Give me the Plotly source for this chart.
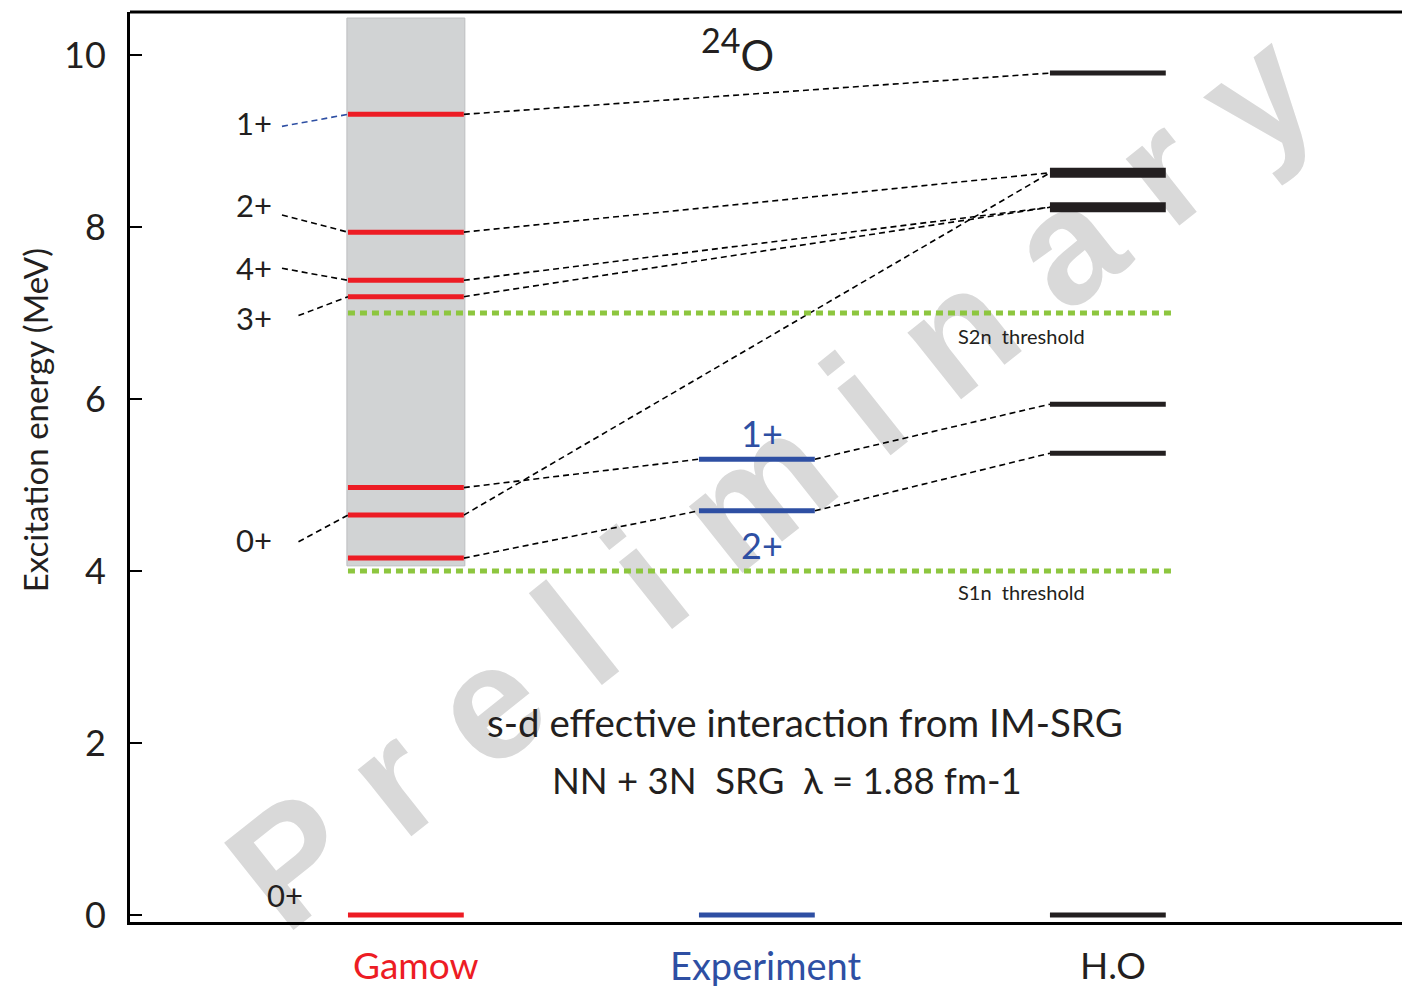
import plotly.graph_objects as go

# Level energies (MeV) for 24O
columns = ["Gamow", "Experiment", "H.O"]
column_colors = ["#ed1c24", "#2e4fa3", "#231f20"]
gamow_levels = [0.0, 4.15, 4.65, 4.97, 7.19, 7.38, 7.94, 9.31]
experiment_levels = [0.0, 4.70, 5.30]
ho_levels = [0.0, 5.37, 5.94, 9.79]
ho_thick_levels = [8.23, 8.63]

# Neutron separation thresholds
s1n_threshold = 4.0
s2n_threshold = 7.0

# Continuum region in the Gamow calculation
gamow_band = [4.06, 10.43]

# Spin-parity labels next to the Gamow column: (text, label energy, leader start energy, target level)
gamow_spin_labels = [
    ("1+", 9.21, 9.17, 9.31),
    ("2+", 8.26, 8.14, 7.94),
    ("4+", 7.52, 7.52, 7.38),
    ("3+", 6.94, 6.97, 7.19),
    ("0+", 4.36, 4.34, 4.65),
]
ground_label = ("0+", 0.23)
experiment_spin_labels = [("1+", 5.60), ("2+", 4.30)]

# Correspondences between columns: (from column, from energy, to column, to energy)
links = [
    (0, 9.31, 2, 9.79),
    (0, 7.94, 2, 8.63),
    (0, 7.38, 2, 8.23),
    (0, 7.19, 2, 8.23),
    (0, 4.65, 2, 8.63),
    (0, 4.97, 1, 5.30),
    (1, 5.30, 2, 5.94),
    (0, 4.15, 1, 4.70),
    (1, 4.70, 2, 5.37),
]

HALF = 0.165          # half-width of a level bar in column units
FONT = "Lato"
TEXT = "#231f20"
GREEN = "#8dc63f"

fig = go.Figure()


def level(col, e, color, width):
    fig.add_trace(go.Scatter(
        x=[col - HALF, col + HALF], y=[e, e], mode="lines",
        line=dict(color=color, width=width), hoverinfo="skip", showlegend=False))


# Dashed correspondence lines
for c0, e0, c1, e1 in links:
    fig.add_trace(go.Scatter(
        x=[c0 + HALF, c1 - HALF], y=[e0, e1], mode="lines",
        line=dict(color="#000000", width=1.6, dash="6px,4px"),
        hoverinfo="skip", showlegend=False))

# Leader lines from spin labels to Gamow levels
for i, (txt, ly, ys, target) in enumerate(gamow_spin_labels):
    xs = -0.353 if i < 3 else -0.306
    fig.add_trace(go.Scatter(
        x=[xs, -HALF], y=[ys, target], mode="lines",
        line=dict(color="#2e4fa3" if i == 0 else "#000000", width=1.6, dash="6px,4px"),
        hoverinfo="skip", showlegend=False))

# Threshold lines
for e in (s2n_threshold, s1n_threshold):
    fig.add_trace(go.Scatter(
        x=[-HALF, 2.19], y=[e, e], mode="lines",
        line=dict(color=GREEN, width=5, dash="7px,5px"),
        hoverinfo="skip", showlegend=False))

# Levels
for e in gamow_levels:
    level(0, e, column_colors[0], 5)
for e in experiment_levels:
    level(1, e, column_colors[1], 5)
for e in ho_levels:
    level(2, e, column_colors[2], 5)
for e in ho_thick_levels:
    level(2, e, column_colors[2], 10)

shapes = [
    # continuum band behind the Gamow levels
    dict(type="rect", xref="x", yref="y", layer="below",
         x0=-HALF - 0.003, x1=HALF + 0.003, y0=gamow_band[0], y1=gamow_band[1],
         fillcolor="#d1d3d4", line=dict(color="#bcbec0", width=1)),
    # watermark
    dict(type="line", xref="paper", yref="paper", layer="below",
         x0=0.068, y0=0.038, x1=0.924, y1=0.962,
         line=dict(color="rgba(0,0,0,0)", width=0),
         label=dict(text="P r e l i m i n a r y", textangle=-38.5,
                    textposition="middle", yanchor="middle",
                    font=dict(family="Liberation Sans", size=162, color="#d9d9d9",
                              weight="bold"))),
    # top frame line
    dict(type="line", xref="paper", yref="paper", x0=0, x1=1, y0=1, y1=1,
         line=dict(color="#000000", width=3)),
]

annotations = []
for txt, ly, _, _ in gamow_spin_labels:
    annotations.append(dict(x=-0.433, y=ly, text=txt, showarrow=False,
                            font=dict(family=FONT, size=31, color=TEXT)))
annotations.append(dict(x=-0.345, y=ground_label[1], text=ground_label[0], showarrow=False,
                        font=dict(family=FONT, size=31, color=TEXT)))
for txt, ly in experiment_spin_labels:
    annotations.append(dict(x=1.015, y=ly, text=txt, showarrow=False,
                            font=dict(family=FONT, size=36, color=column_colors[1])))
annotations += [
    dict(x=0.946, y=10.06, text="<sup><span style='font-size:34px'>24</span></sup>O",
         showarrow=False, font=dict(family=FONT, size=42, color=TEXT)),
    dict(x=1.137, y=2.24, text="s-d effective interaction from IM-SRG", showarrow=False,
         font=dict(family=FONT, size=38.5, color=TEXT)),
    dict(x=1.085, y=1.57, text="NN + 3N  SRG  λ = 1.88 fm-1", showarrow=False,
         font=dict(family=FONT, size=36.5, color=TEXT)),
    dict(x=1.755, y=6.73, text="S2n  threshold", showarrow=False,
         font=dict(family=FONT, size=20, color=TEXT)),
    dict(x=1.755, y=3.76, text="S1n  threshold", showarrow=False,
         font=dict(family=FONT, size=20, color=TEXT)),
    dict(xref="paper", yref="paper", x=-0.075, y=0.551, xanchor="center",
         yanchor="middle", text="Excitation energy (MeV)",
         textangle=-90, showarrow=False, font=dict(family=FONT, size=33, color=TEXT)),
]
label_shift = [0.028, 0.025, 0.015]
label_size = [37, 38, 37]
for i, (name, color) in enumerate(zip(columns, column_colors)):
    annotations.append(dict(x=i + label_shift[i], y=0, yref="paper", yanchor="top", yshift=-18,
                            text=name, showarrow=False,
                            font=dict(family=FONT, size=label_size[i], color=color)))

fig.update_layout(
    width=1402, height=986,
    margin=dict(l=130, r=0, t=12, b=64),
    paper_bgcolor="white", plot_bgcolor="white",
    shapes=shapes, annotations=annotations,
    xaxis=dict(range=[-0.786, 2.838], showgrid=False, zeroline=False,
               showticklabels=False, ticks="", showline=True,
               linecolor="#000000", linewidth=3),
    yaxis=dict(range=[-0.081, 10.50], showgrid=False, zeroline=False,
               tickvals=[0, 2, 4, 6, 8, 10], ticks="inside", ticklen=12,
               tickwidth=2, tickcolor="#000000", showline=True,
               linecolor="#000000", linewidth=3, ticklabelstandoff=14,
               tickfont=dict(family=FONT, size=36, color=TEXT)),
)

fig.write_html("out.html")
